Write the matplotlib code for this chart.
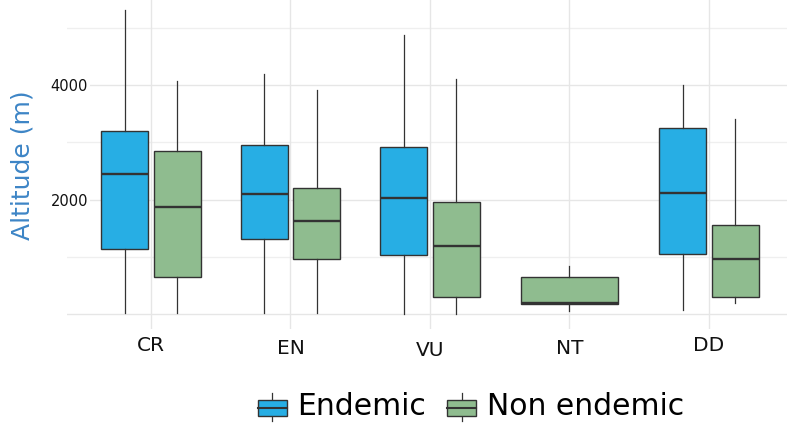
import matplotlib.pyplot as plt
from matplotlib.patches import Patch, Rectangle
from matplotlib.lines import Line2D
from matplotlib.legend_handler import HandlerBase
from matplotlib.transforms import ScaledTranslation

# Red list categories and altitude summaries (m) per group
categories = ['CR', 'EN', 'VU', 'NT', 'DD']
series = ['Endemic', 'Non endemic']
colors = ['#27AEE4', '#8FBC8F']

endemic_low = [20, 17, 5, None, 75]
endemic_q1 = [1140, 1309, 1030, None, 1052]
endemic_med = [2443, 2094, 2024, None, 2122]
endemic_q3 = [3204, 2960, 2914, None, 3257]
endemic_high = [5310, 4188, 4874, None, 4002]

nonend_low = [20, 17, 5, 63, 192]
nonend_q1 = [651, 960, 307, 175, 307]
nonend_med = [1867, 1623, 1197, 200, 960]
nonend_q3 = [2850, 2199, 1960, 656, 1553]
nonend_high = [4072, 3914, 4112, 843, 3408]

label_drop = [0, 3, 4.5, 3, 0]  # px offset of category labels


def make_stats(low, q1, med, q3, high):
    out = []
    for i in range(len(categories)):
        if med[i] is None:
            out.append(None)
        else:
            out.append(dict(whislo=low[i], q1=q1[i], med=med[i], q3=q3[i],
                            whishi=high[i], fliers=[]))
    return out


all_stats = [make_stats(endemic_low, endemic_q1, endemic_med, endemic_q3, endemic_high),
             make_stats(nonend_low, nonend_q1, nonend_med, nonend_q3, nonend_high)]

fig = plt.figure(figsize=(7.87, 4.23), dpi=100)
ax = fig.add_axes([0.0855, 0.2217, 0.9217, 0.7903])

dodge = 0.187
width = 0.337
edge = '#333333'
for s, stats in enumerate(all_stats):
    for i, st in enumerate(stats):
        if st is None:
            continue
        other = all_stats[1 - s][i]
        if other is None:
            pos, w = i + 1, 2 * width + 0.02
        else:
            pos, w = i + 1 + (dodge if s else -dodge), width
        ax.bxp([st], positions=[pos], widths=w, patch_artist=True,
               showcaps=False, showfliers=False,
               boxprops=dict(facecolor=colors[s], edgecolor=edge, linewidth=1.0),
               medianprops=dict(color=edge, linewidth=1.7),
               whiskerprops=dict(color=edge, linewidth=0.9),
               zorder=3)

# gridlines
for y in [0, 2000, 4000]:
    ax.axhline(y, color='#e6e6e6', linewidth=1.0, zorder=0)
for y in [1000, 3000, 5000]:
    ax.axhline(y, color='#efefef', linewidth=0.9, zorder=0)
for x in range(1, len(categories) + 1):
    ax.axvline(x, color='#e6e6e6', linewidth=1.0, zorder=0)

ax.set_xlim(0.4, 5.6)
ax.set_ylim(-260, 5575)
for sp in ax.spines.values():
    sp.set_visible(False)

ax.set_xticks(range(1, len(categories) + 1))
ax.set_xticklabels(categories, fontsize=14.5, color='#111111')
ax.tick_params(axis='x', length=0, pad=5)
for lbl, dy in zip(ax.get_xticklabels(), label_drop):
    lbl.set_transform(lbl.get_transform() + ScaledTranslation(0, -dy / 100, fig.dpi_scale_trans))

ax.set_yticks([2000, 4000])
ax.set_yticklabels(['2000', '4000'], fontsize=10.5, color='#111111',
                   bbox=dict(facecolor='white', edgecolor='none', pad=1))
ax.tick_params(axis='y', length=0, pad=-15)
for lbl in ax.get_yticklabels():
    lbl.set_horizontalalignment('right')

fig.text(0.028, 1 - 165 / 423, 'Altitude (m)', rotation=90, fontsize=18,
         color='#3D85C6', ha='center', va='center')


class BoxKey(HandlerBase):
    # small boxplot glyph for the legend
    def create_artists(self, legend, orig_handle, xdescent, ydescent,
                       width, height, fontsize, trans):
        fc = orig_handle.get_facecolor()
        x0, y0 = -xdescent, -ydescent
        cx = x0 + width / 2
        mid = y0 + 0.3 * height
        wl = Line2D([cx, cx], [mid - 0.66 * height, mid + 0.78 * height],
                    color=edge, linewidth=0.9, transform=trans)
        box = Rectangle((x0, mid - 0.42 * height), width, 0.84 * height,
                        facecolor=fc, edgecolor=edge, linewidth=1.0, transform=trans)
        md = Line2D([x0, x0 + width], [mid, mid], color=edge, linewidth=1.5,
                    transform=trans)
        return [wl, box, md]


handles = [Patch(facecolor=c) for c in colors]
fig.legend(handles, series, handler_map={Patch: BoxKey()},
           loc='center', bbox_to_anchor=(471 / 787, 1 - 406 / 423),
           ncol=2, frameon=False, fontsize=21.5, handlelength=0.97,
           handleheight=0.62, handletextpad=0.37, columnspacing=0.7,
           borderpad=0, borderaxespad=0)

fig.savefig('out.png', dpi=100)
